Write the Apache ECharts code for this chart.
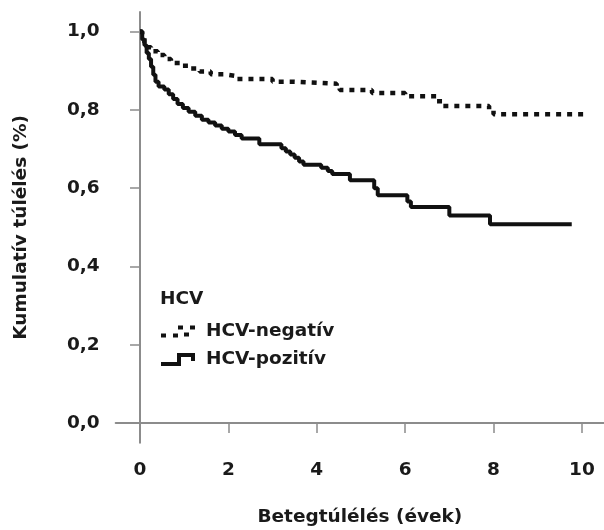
<!DOCTYPE html>
<html>
<head>
<meta charset="utf-8">
<script src="https://cdn.jsdelivr.net/npm/echarts@6.0.0/dist/echarts.min.js"></script>
<style>
  html, body { margin: 0; padding: 0; background: #fff; }
  #chart { width: 604px; height: 530px; }
</style>
</head>
<body>
<div id="chart"></div>
<script>
// tengelyek
var xTicks = [0, 2, 4, 6, 8, 10];
var yTicks = [0, 0.2, 0.4, 0.6, 0.8, 1.0];

// HCV-negatív (szaggatott)
var negTime = [0, 0.05, 0.1, 0.15, 0.25, 0.4, 0.55, 0.7, 0.9, 1.1, 1.35, 1.6, 1.9, 2.2, 3.0, 3.5, 4.45, 4.52, 5.25, 6.0, 6.72, 6.85, 7.9, 8.0, 10.03];
var negSurv = [1.0, 0.985, 0.97, 0.96, 0.95, 0.94, 0.93, 0.92, 0.913, 0.906, 0.898, 0.891, 0.886, 0.879, 0.872, 0.867, 0.858, 0.851, 0.843, 0.835, 0.822, 0.81, 0.799, 0.789, 0.789];

// HCV-pozitív (folytonos)
var posTime = [0, 0.05, 0.1, 0.15, 0.2, 0.25, 0.3, 0.35, 0.42, 0.55, 0.65, 0.75, 0.85, 0.97, 1.1, 1.25, 1.4, 1.55, 1.7, 1.85, 2.0, 2.15, 2.3, 2.7, 3.2, 3.3, 3.4, 3.5, 3.6, 3.7, 4.1, 4.25, 4.35, 4.75, 5.3, 5.38, 6.05, 6.13, 7.0, 7.92, 9.77];
var posSurv = [1.0, 0.98, 0.965, 0.945, 0.93, 0.91, 0.89, 0.872, 0.86, 0.852, 0.84, 0.828, 0.815, 0.805, 0.795, 0.785, 0.775, 0.768, 0.76, 0.752, 0.745, 0.736, 0.727, 0.712, 0.702, 0.694, 0.686, 0.678, 0.668, 0.66, 0.652, 0.644, 0.636, 0.62, 0.6, 0.582, 0.566, 0.552, 0.53, 0.508, 0.508];

var seriesNames = ['HCV-negatív', 'HCV-pozitív'];

function zip(t, s) {
    var out = [];
    for (var i = 0; i < t.length; i++) out.push([t[i], s[i]]);
    return out;
}

var font = 'DejaVu Sans';
var axisGray = '#8c8c8c';
var textColor = '#1a1a1a';

var chart = echarts.init(document.getElementById('chart'));

var option = {
    animation: false,
    backgroundColor: '#fff',
    title: {
        text: 'HCV',
        left: 160,
        top: 290,
        padding: 0,
        textStyle: { fontFamily: font, fontWeight: 'bold', fontSize: 18.5, color: textColor }
    },
    legend: {
        orient: 'vertical',
        left: 161,
        top: 322,
        padding: 0,
        itemWidth: 34,
        itemHeight: 14,
        itemGap: 9,
        textStyle: { fontFamily: font, fontWeight: 'bold', fontSize: 18.5, color: textColor, padding: [0, 0, 0, 6] },
        data: [
            { name: seriesNames[0], icon: 'path://M0,10h5v4h-5z M12,10h5v4h-5z M17,2h5v4h-5z M23,9h5v4h-5z M29,2h5v4h-5z' },
            { name: seriesNames[1], icon: 'path://M0,9H16V0H34V8H30V4H20V13H0Z' }
        ]
    },
    // a rács pontosan a megadott helyen marad
    grid: { left: 115.7, right: 0, top: 12, bottom: 87.3, outerBoundsMode: 'none', containLabel: false },
    xAxis: {
        type: 'value',
        min: -0.55,
        max: 10.5,
        name: 'Betegtúlélés (évek)',
        nameLocation: 'middle',
        nameGap: 65,
        nameTextStyle: { fontFamily: font, fontWeight: 'bold', fontSize: 18.5, color: textColor },
        axisLine: { lineStyle: { color: axisGray, width: 2 } },
        axisTick: { customValues: xTicks, length: 10, lineStyle: { color: axisGray, width: 1.5 } },
        axisLabel: {
            customValues: xTicks,
            margin: 18,
            fontFamily: font, fontWeight: 'bold', fontSize: 18.5, color: textColor
        },
        splitLine: { show: false }
    },
    yAxis: {
        type: 'value',
        min: -0.05,
        max: 1.05,
        name: 'Kumulatív túlélés (%)',
        nameLocation: 'middle',
        nameGap: 85,
        nameTextStyle: { fontFamily: font, fontWeight: 'bold', fontSize: 18.5, color: textColor },
        axisLine: { show: true, lineStyle: { color: axisGray, width: 2 } },
        axisTick: { show: true, customValues: yTicks, length: 10, lineStyle: { color: axisGray, width: 1.5 } },
        axisLabel: {
            customValues: yTicks,
            margin: 16,
            fontFamily: font, fontWeight: 'bold', fontSize: 18.5, color: textColor,
            formatter: function (v) { return v.toFixed(1).replace('.', ','); }
        },
        splitLine: { show: false }
    },
    series: [
        {
            name: seriesNames[0],
            type: 'line',
            step: 'end',
            symbol: 'none',
            color: '#111',
            lineStyle: { color: '#111', width: 4.5, type: [5, 6], cap: 'butt' },
            data: zip(negTime, negSurv)
        },
        {
            name: seriesNames[1],
            type: 'line',
            step: 'end',
            symbol: 'none',
            color: '#111',
            lineStyle: { color: '#111', width: 4 },
            data: zip(posTime, posSurv)
        }
    ]
};

chart.setOption(option);
</script>
</body>
</html>
